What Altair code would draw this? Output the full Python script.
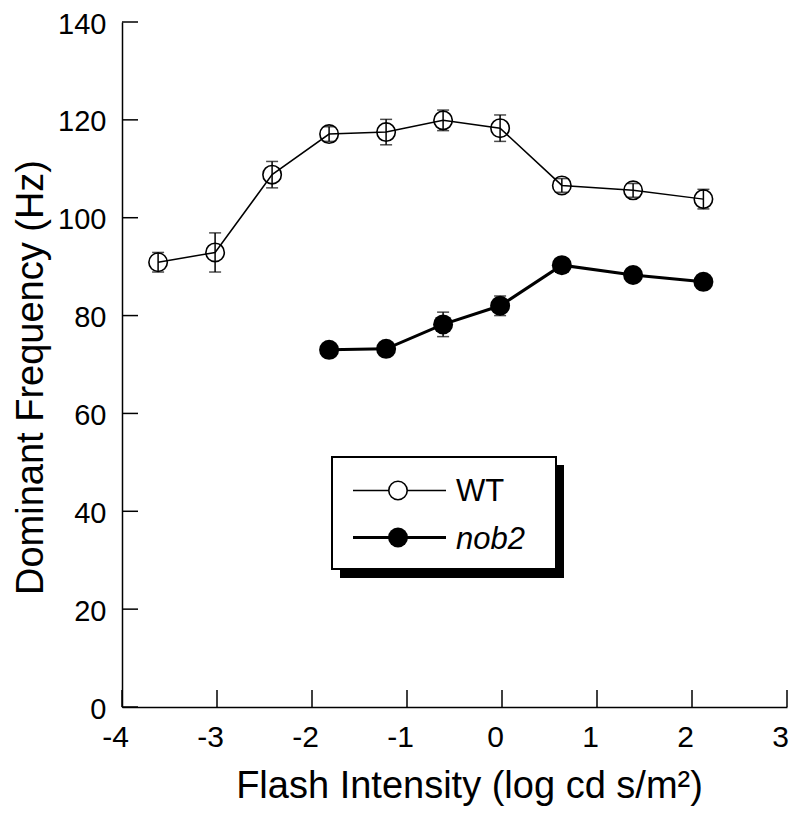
import altair as alt
import pandas as pd

# ---- data ----
wt_x = [-3.62, -3.02, -2.42, -1.82, -1.22, -0.62, -0.02, 0.63, 1.38, 2.12]
wt_y = [90.9, 92.9, 108.8, 117.1, 117.5, 119.9, 118.3, 106.6, 105.6, 103.8]
wt_err = [2.0, 4.0, 2.7, 1.5, 2.6, 2.1, 2.7, 1.4, 1.4, 2.0]

nob_x = [-1.82, -1.22, -0.62, -0.02, 0.63, 1.38, 2.12]
nob_y = [73.0, 73.2, 78.2, 82.0, 90.3, 88.3, 86.9]
nob_err = [0.8, 0.8, 2.5, 2.0, 1.0, 1.0, 1.0]

series_names = ["WT", "nob2"]
x_ticks = [-4, -3, -2, -1, 0, 1, 2, 3]
y_ticks = [0, 20, 40, 60, 80, 100, 120, 140]

W, H = 665, 685
FONT = "Liberation Sans"

wt = pd.DataFrame({"x": wt_x, "y": wt_y, "lo": [a - b for a, b in zip(wt_y, wt_err)],
                   "hi": [a + b for a, b in zip(wt_y, wt_err)]})
nob = pd.DataFrame({"x": nob_x, "y": nob_y, "lo": [a - b for a, b in zip(nob_y, nob_err)],
                    "hi": [a + b for a, b in zip(nob_y, nob_err)]})

xs = alt.Scale(domain=[-4, 3], nice=False, zero=False)
ys = alt.Scale(domain=[0, 140], nice=False, zero=False)

X = alt.X("x:Q", scale=xs, axis=alt.Axis(
    values=x_ticks, title="Flash Intensity (log cd s/m²)", grid=False, ticks=False,
    labelExpr="'' + datum.value",
    domainColor="black", domainWidth=1.5, labelFont=FONT, labelFontSize=30,
    labelColor="black", labelAlign="center", labelOffset=-7, labelPadding=15,
    labelBaseline="top", labelFlush=False, labelOverlap=False,
    titleFont=FONT, titleFontSize=38, titleFontWeight="normal",
    titleColor="black", titleX=347, titleY=90, titleBaseline="alphabetic",
    titleAnchor="start", titleAlign="center"))
Y = alt.Y("y:Q", scale=ys, axis=alt.Axis(
    values=y_ticks, title="Dominant Frequency (Hz)", grid=False, ticks=False,
    labelExpr="'' + datum.value",
    domainColor="black", domainWidth=1.5, labelFont=FONT, labelFontSize=29,
    labelColor="black", labelPadding=16, labelFlush=False, labelOverlap=False,
    labelBaseline="middle", labelOffset=2,
    titleFont=FONT, titleFontSize=38, titleFontWeight="normal", titleColor="black",
    titleAngle=-90, titleX=-80, titleY=355, titleBaseline="alphabetic",
    titleAlign="center", titleAnchor="start"))

base_wt = alt.Chart(wt)
base_nob = alt.Chart(nob)

wt_line = base_wt.mark_line(color="black", strokeWidth=1.5).encode(x=X, y=Y)
wt_bar = base_wt.mark_rule(color="black", strokeWidth=1.5).encode(x="x:Q", y="lo:Q", y2="hi:Q")
wt_cap_lo = base_wt.mark_tick(color="black", orient="horizontal", size=12, thickness=1.5).encode(x="x:Q", y="lo:Q")
wt_cap_hi = base_wt.mark_tick(color="black", orient="horizontal", size=12, thickness=1.5).encode(x="x:Q", y="hi:Q")
wt_pts = base_wt.mark_point(shape="circle", filled=False, color="black", size=340,
                            strokeWidth=1.6, opacity=1).encode(x="x:Q", y="y:Q")

nob_line = base_nob.mark_line(color="black", strokeWidth=3).encode(x="x:Q", y="y:Q")
nob_bar = base_nob.mark_rule(color="black", strokeWidth=1.5).encode(x="x:Q", y="lo:Q", y2="hi:Q")
nob_cap_lo = base_nob.mark_tick(color="black", orient="horizontal", size=12, thickness=1.5).encode(x="x:Q", y="lo:Q")
nob_cap_hi = base_nob.mark_tick(color="black", orient="horizontal", size=12, thickness=1.5).encode(x="x:Q", y="hi:Q")
nob_pts = base_nob.mark_circle(color="black", size=400, opacity=1).encode(x="x:Q", y="y:Q")

# inward axis ticks
yt = alt.Chart(pd.DataFrame({"v": y_ticks})).mark_rule(color="black", strokeWidth=1.5).encode(
    y="v:Q", x=alt.value(0), x2=alt.value(16))
xt = alt.Chart(pd.DataFrame({"v": x_ticks})).mark_rule(color="black", strokeWidth=1.5).encode(
    x="v:Q", y=alt.value(H), y2=alt.value(H - 17))

# legend (drawn in pixel space)
one = pd.DataFrame({"k": [0]})
BX0, BX1, BY0, BY1 = 210, 434, 435, 547
shadow = alt.Chart(one).mark_rect(color="black").encode(
    x=alt.value(BX0 + 8), x2=alt.value(BX1 + 8), y=alt.value(BY0 + 8), y2=alt.value(BY1 + 9))
box = alt.Chart(one).mark_rect(fill="white", stroke="black", strokeWidth=2).encode(
    x=alt.value(BX0), x2=alt.value(BX1), y=alt.value(BY0), y2=alt.value(BY1))
leg_wt_line = alt.Chart(one).mark_rule(color="black", strokeWidth=1.5).encode(
    x=alt.value(231), x2=alt.value(324), y=alt.value(468.5))
leg_nob_line = alt.Chart(one).mark_rule(color="black", strokeWidth=3).encode(
    x=alt.value(231), x2=alt.value(324), y=alt.value(515.5))
leg_wt_pt = alt.Chart(one).mark_point(shape="circle", filled=True, fill="white", stroke="black",
                                      strokeWidth=1.6, size=340, opacity=1).encode(
    x=alt.value(276), y=alt.value(468.5))
leg_nob_pt = alt.Chart(one).mark_circle(color="black", size=400, opacity=1).encode(
    x=alt.value(276), y=alt.value(515.5))
leg_wt_txt = alt.Chart(pd.DataFrame({"t": [series_names[0]]})).mark_text(
    font=FONT, fontSize=31, align="left", baseline="alphabetic", color="black").encode(
    x=alt.value(334), y=alt.value(479), text="t:N")
leg_nob_txt = alt.Chart(pd.DataFrame({"t": [series_names[1]]})).mark_text(
    font=FONT, fontSize=31, fontStyle="italic", align="left", baseline="alphabetic", color="black").encode(
    x=alt.value(334), y=alt.value(527), text="t:N")

chart = alt.layer(
    wt_line, wt_bar, wt_cap_lo, wt_cap_hi, wt_pts,
    nob_line, nob_bar, nob_cap_lo, nob_cap_hi, nob_pts,
    yt, xt,
    shadow, box, leg_wt_line, leg_nob_line, leg_wt_pt, leg_nob_pt, leg_wt_txt, leg_nob_txt,
).properties(
    width=W, height=H,
    autosize=alt.AutoSizeParams(type="none"),
    padding={"left": 114, "top": 14, "right": 5, "bottom": 110},
    background="white",
).configure_view(stroke=None)

chart.save("out.html", embed_options={"renderer": "svg", "actions": False})
